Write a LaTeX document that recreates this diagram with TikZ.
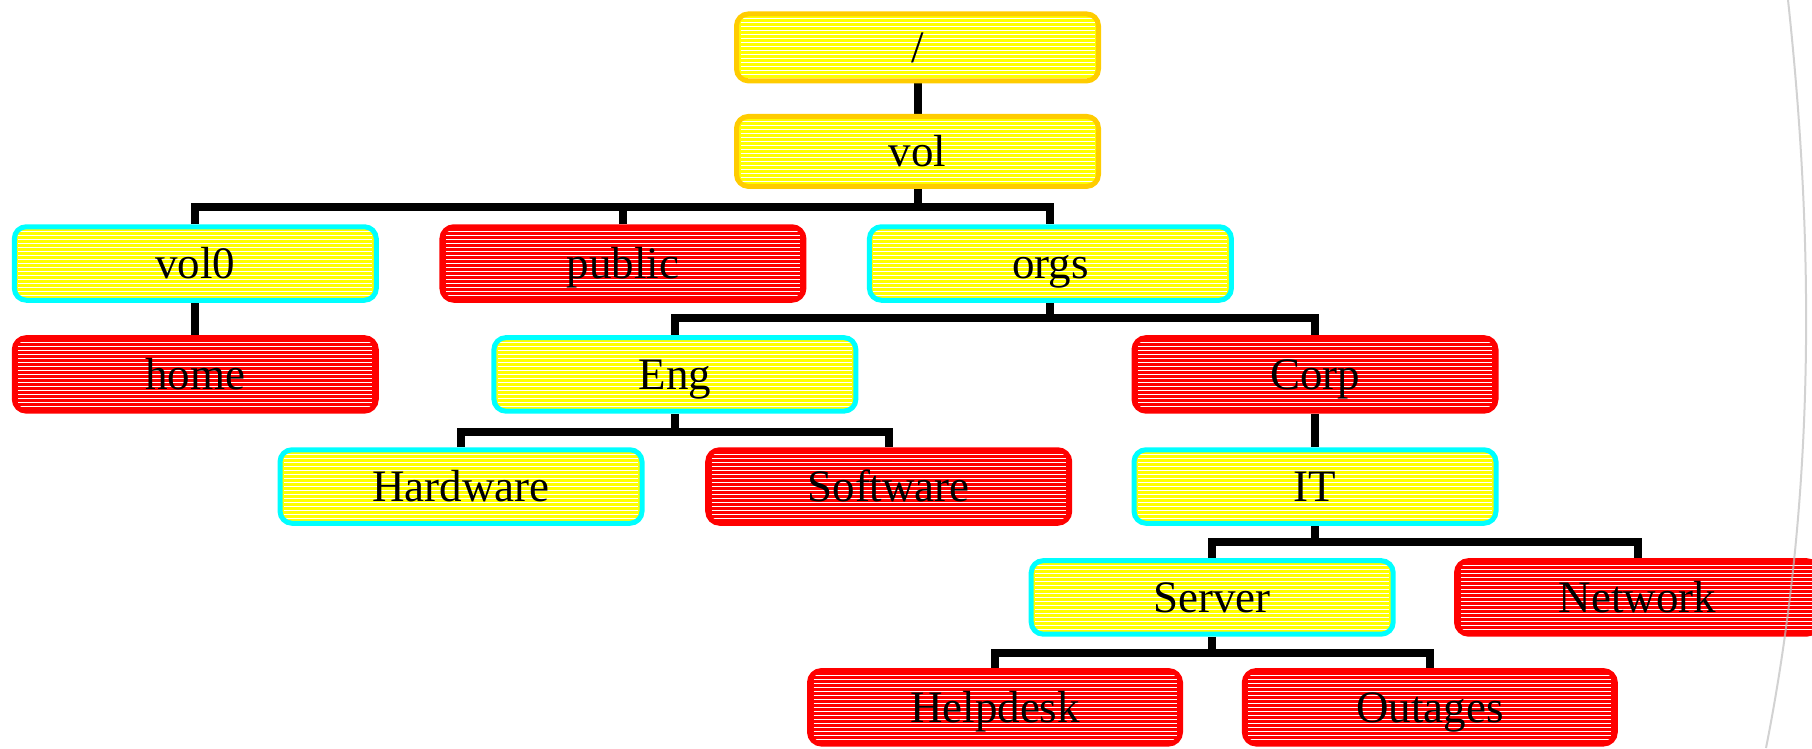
\documentclass[tikz,border=0pt]{standalone}
\usepackage{fontspec}
\setmainfont{Liberation Serif}
\usetikzlibrary{backgrounds}
\definecolor{gold}{RGB}{255,204,0}
\definecolor{boxcyan}{RGB}{0,255,255}
\definecolor{boxyellow}{RGB}{255,255,0}
\definecolor{boxred}{RGB}{255,0,0}
\tikzset{
  box/.style={rounded corners=12pt, minimum width=362pt, minimum height=73.5pt,
    line width=5pt, inner sep=0pt, text height=30pt, text depth=0pt,
    font=\fontsize{45}{50}\selectfont,
    path picture={
      \foreach \i in {5,9,...,81}
        \draw[white, line width=1pt]
          ([xshift=4pt,yshift=-\i pt]path picture bounding box.north west)
          -- ([xshift=-4pt,yshift=-\i pt]path picture bounding box.north east);
    }},
  ybox/.style={box, draw=boxcyan, fill=boxyellow},
  gbox/.style={box, draw=gold, fill=boxyellow},
  rbox/.style={box, draw=boxred, fill=boxred},
  conn/.style={line width=8pt, line join=miter},
  pagecurl/.style={line width=2pt, draw=black!25, opacity=0.7}
}
\begin{document}
\begin{tikzpicture}[x=1pt,y=-1pt]
\useasboundingbox (0,0) rectangle (1812,748);
\node[gbox, minimum height=67pt] (root) at (917.5,47.4) {/};
\node[gbox, minimum height=70pt] (vol) at (917.5,151.4) {vol};
\node[ybox] (vol0) at (195.3,263.5) {vol0};
\node[rbox] (public) at (622.9,263.5) {public};
\node[ybox] (orgs) at (1050.4,263.5) {orgs};
\node[rbox] (home) at (195.3,374.4) {home};
\node[ybox] (eng) at (674.9,374.4) {Eng};
\node[rbox] (corp) at (1315,374.4) {Corp};
\node[ybox] (hw) at (461,486.5) {Hardware};
\node[rbox] (sw) at (888.7,486.5) {Software};
\node[ybox] (it) at (1315,486.5) {IT};
\node[ybox] (server) at (1212.2,597.4) {Server};
\node[rbox] (network) at (1637.5,597.4) {Network};
\node[rbox, minimum width=371pt] (helpdesk) at (995,707.3) {Helpdesk};
\node[rbox, minimum width=371pt] (outages) at (1429.8,707.3) {Outages};
\begin{scope}[on background layer]
\coordinate (j1) at (917.5,207);
\coordinate (j2) at (1050.4,318);
\coordinate (j3) at (674.9,432);
\coordinate (j4) at (1315,542);
\coordinate (j5) at (1212.2,653);
\draw[conn] (root.south) -- (vol.north);
\draw[conn] (vol.south) -- (j1);
\draw[conn] (vol0.north) |- (j1) -| (orgs.north);
\draw[conn] (public.north) -- (public.north |- j1);
\draw[conn] (vol0.south) -- (home.north);
\draw[conn] (orgs.south) -- (j2);
\draw[conn] (eng.north) |- (j2) -| (corp.north);
\draw[conn] (eng.south) -- (j3);
\draw[conn] (hw.north) |- (j3) -| (sw.north);
\draw[conn] (corp.south) -- (it.north);
\draw[conn] (it.south) -- (j4);
\draw[conn] (server.north) |- (j4) -| (network.north);
\draw[conn] (server.south) -- (j5);
\draw[conn] (helpdesk.north) |- (j5) -| (outages.north);
\end{scope}
\draw[pagecurl] (1788,0) .. controls (1815,250) and (1815,500) .. (1766,748);
\end{tikzpicture}
\end{document}
